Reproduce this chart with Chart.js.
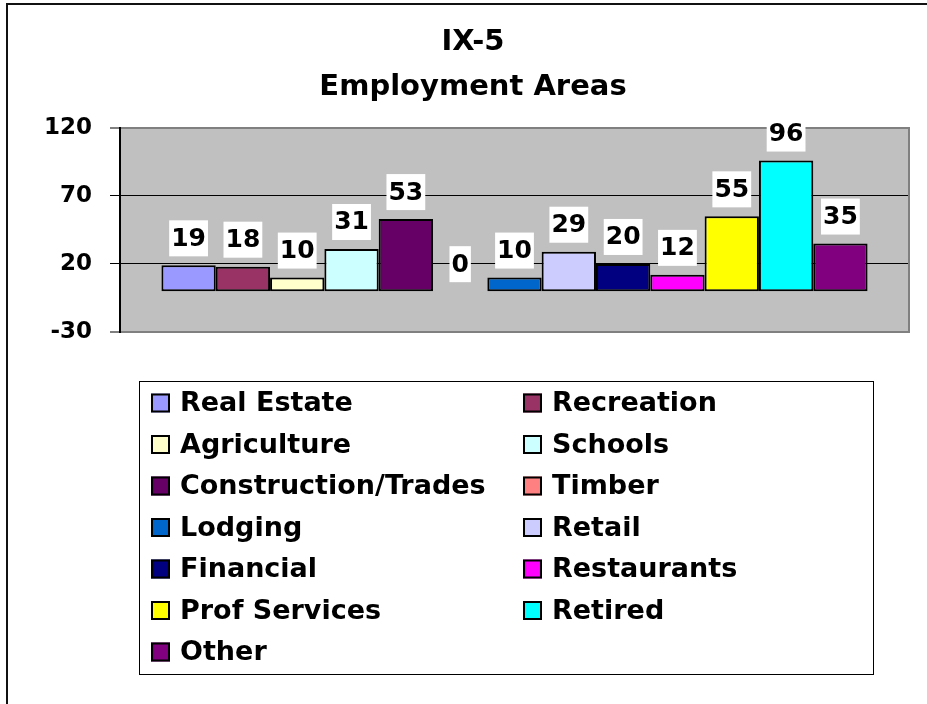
<!DOCTYPE html>
<html><head><meta charset="utf-8">
<script src="https://cdn.jsdelivr.net/npm/chart.js@4.4.1/dist/chart.umd.min.js"></script>
<style>html,body{margin:0;padding:0;background:#fff;overflow:hidden}canvas{display:block}</style>
</head><body>
<canvas id="c" width="927" height="704"></canvas>
<script>
const titleLines = ['IX-5', 'Employment Areas'];
const categories = [''];
const seriesNames = ['Real Estate','Recreation','Agriculture','Schools','Construction/Trades','Timber','Lodging','Retail','Financial','Restaurants','Prof Services','Retired','Other'];
const seriesValues = [19,18,10,31,53,0,10,29,20,12,55,96,35];
const seriesColors = ['#9999FF','#993366','#FFFFCC','#CCFFFF','#660066','#FF8080','#0066CC','#CCCCFF','#000080','#FF00FF','#FFFF00','#00FFFF','#800080'];
const yMin = -30, yMax = 120, yStep = 50;

const FONT = "'DejaVu Sans', sans-serif";
Chart.defaults.font.family = FONT;
Chart.defaults.color = '#000';

const decorPlugin = {
  id: 'decor',
  beforeDraw(chart) {
    const ctx = chart.ctx, ca = chart.chartArea;
    ctx.save();
    ctx.fillStyle = '#fff';
    ctx.fillRect(0, 0, chart.width, chart.height);
    ctx.strokeStyle = '#111'; ctx.lineWidth = 2;
    ctx.beginPath();
    ctx.moveTo(7, chart.height + 5); ctx.lineTo(7, 4); ctx.lineTo(chart.width + 5, 4);
    ctx.stroke();
    ctx.fillStyle = '#C0C0C0';
    ctx.fillRect(ca.left, ca.top, ca.right - ca.left, ca.bottom - ca.top);
    ctx.restore();
  },
  afterDatasetsDraw(chart) {
    const ctx = chart.ctx, ca = chart.chartArea;
    ctx.save();
    ctx.strokeStyle = '#808080'; ctx.lineWidth = 2;
    ctx.beginPath(); ctx.moveTo(ca.right, ca.top - 1); ctx.lineTo(ca.right, ca.bottom + 1); ctx.stroke();
    ctx.font = 'bold 25px ' + FONT;
    ctx.textAlign = 'center'; ctx.textBaseline = 'middle';
    chart.data.datasets.forEach((ds, i) => {
      const el = chart.getDatasetMeta(i).data[0];
      const txt = String(ds.data[0]);
      const w = ctx.measureText(txt).width + 4;
      const cy = el.y - 27;
      ctx.fillStyle = '#fff';
      ctx.fillRect(el.x - w / 2, cy - 18, w, 36);
      ctx.fillStyle = '#000';
      ctx.fillText(txt, el.x, cy + 1);
    });
    ctx.restore();
  },
  afterDraw(chart) {
    const ctx = chart.ctx;
    ctx.save();
    ctx.strokeStyle = '#000'; ctx.lineWidth = 1;
    ctx.strokeRect(139.5, 381.5, 734, 293);
    const items = Chart.defaults.plugins.legend.labels.generateLabels(chart);
    ctx.font = 'bold 27px ' + FONT;
    ctx.textAlign = 'left'; ctx.textBaseline = 'middle';
    items.forEach((it, i) => {
      const col = i % 2, row = Math.floor(i / 2);
      const sx = col ? 523 : 151;
      const cy = 403 + row * 41.5;
      ctx.fillStyle = it.fillStyle;
      ctx.fillRect(sx, cy - 9.5, 19, 19);
      ctx.strokeStyle = '#000'; ctx.lineWidth = 2;
      ctx.strokeRect(sx + 1, cy - 8.5, 17, 17);
      ctx.fillStyle = '#000';
      ctx.fillText(it.text, sx + 29, cy + 1);
    });
    ctx.restore();
  }
};

new Chart(document.getElementById('c'), {
  type: 'bar',
  data: {
    labels: categories,
    datasets: seriesNames.map((name, i) => ({
      label: name,
      data: [seriesValues[i]],
      backgroundColor: seriesColors[i],
      borderColor: '#000',
      borderWidth: 2,
      borderSkipped: false
    }))
  },
  options: {
    responsive: false,
    animation: false,
    devicePixelRatio: 1,
    categoryPercentage: 0.895,
    barPercentage: 1.0,
    layout: { padding: { left: 37, right: 18, top: 6, bottom: 372 } },
    plugins: {
      legend: { display: false },
      tooltip: { enabled: false },
      title: {
        display: true,
        text: titleLines,
        font: { size: 29, weight: 'bold', family: FONT, lineHeight: 1.55 },
        color: '#000',
        padding: { top: 14, bottom: 18 }
      }
    },
    scales: {
      x: { display: false },
      y: {
        min: yMin, max: yMax,
        afterFit(scale) { scale.width = 83; },
        ticks: {
          stepSize: yStep,
          padding: 18,
          font: { size: 23, weight: 'bold', family: FONT },
          color: '#000',
          callback: v => String(v)
        },
        grid: {
          color: c => (c.tick && (c.tick.value === yMin || c.tick.value === yMax)) ? '#808080' : '#000',
          lineWidth: c => (c.tick && (c.tick.value === yMin || c.tick.value === yMax)) ? 2 : 1,
          tickColor: '#000',
          tickLength: 10,
          tickWidth: 1
        },
        border: { display: true, color: '#000', width: 2 }
      }
    }
  },
  plugins: [decorPlugin]
});
</script>
</body></html>
